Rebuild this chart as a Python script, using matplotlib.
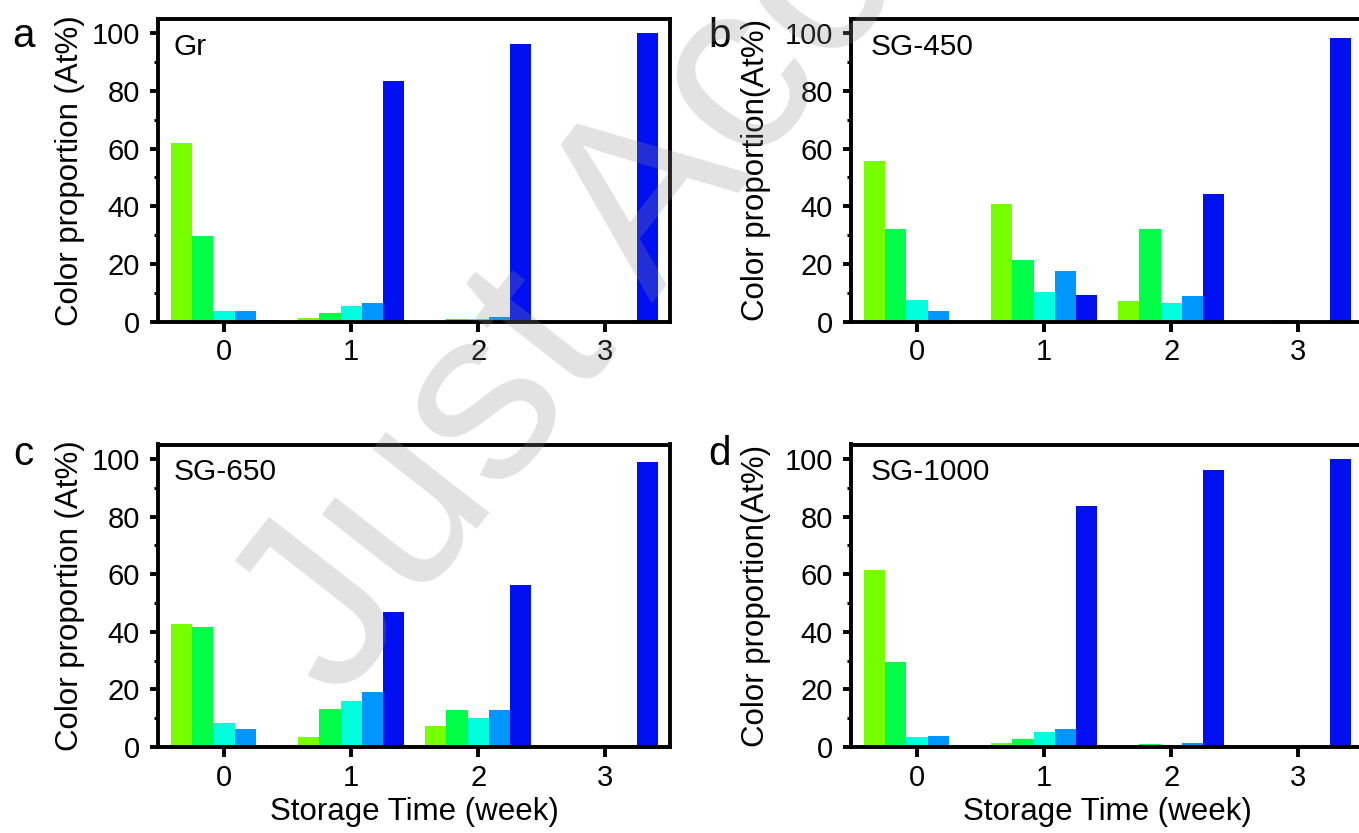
import numpy as np
import matplotlib
matplotlib.use("Agg")
import matplotlib.pyplot as plt
from matplotlib.ticker import MultipleLocator

plt.rcParams['font.family'] = ['Liberation Sans', 'DejaVu Sans']

weeks = [0, 1, 2, 3]

# five colour classes, from yellow-green to deep blue
bar_colors = ['#77ff00', '#00ff48', '#00ffdd', '#0096ff', '#0010f0']

# At% per colour class at each storage week
gr = [
    [61.8, 1.3, 0.0, 0.0],
    [29.7, 2.8, 1.0, 0.0],
    [3.5, 5.3, 0.8, 0.0],
    [3.8, 6.4, 1.4, 0.0],
    [0.6, 83.5, 96.4, 100.0],
]
sg450 = [
    [55.6, 40.7, 7.2, 0.0],
    [32.2, 21.2, 32.2, 0.4],
    [7.5, 10.4, 6.4, 0.4],
    [3.8, 17.6, 8.9, 0.0],
    [0.0, 9.2, 44.4, 98.5],
]
sg650 = [
    [42.6, 3.5, 7.2, 0.0],
    [41.6, 13.3, 12.9, 0.0],
    [8.5, 15.9, 10.0, 0.4],
    [6.3, 19.2, 12.9, 0.0],
    [0.0, 47.0, 56.3, 98.8],
]
sg1000 = [
    [61.6, 1.3, 0.0, 0.0],
    [29.5, 2.8, 1.0, 0.0],
    [3.5, 5.3, 0.8, 0.0],
    [3.7, 6.3, 1.3, 0.0],
    [0.5, 83.5, 96.3, 100.0],
]

panels = [
    ('a', 'Gr', gr, 'Color proportion (At%)'),
    ('b', 'SG-450', sg450, 'Color proportion(At%)'),
    ('c', 'SG-650', sg650, 'Color proportion (At%)'),
    ('d', 'SG-1000', sg1000, 'Color proportion(At%)'),
]

fig = plt.figure(figsize=(13.59, 8.33), dpi=100)

W, H = 1359, 833
ax_w, ax_h = 512, 302.5
origins = [(158, 321.5), (851, 321.5), (158, 747), (851, 747)]
letter_pos = [(12, 47), (708, 47), (13, 465), (708, 465)]

bw = 1 / 6
x = np.array(weeks, dtype=float)

for k, (letter, name, data, ylab) in enumerate(panels):
    x0, y0 = origins[k]
    ax = fig.add_axes([x0 / W, 1 - y0 / H, ax_w / W, ax_h / H])
    for i in range(5):
        ax.bar(x + (i - 2) * bw, data[i], width=bw, color=bar_colors[i],
               linewidth=0, zorder=2)

    ax.set_xlim(-0.52, 3.51)
    ax.set_ylim(0, 105)
    ax.set_xticks(weeks)
    ax.yaxis.set_major_locator(MultipleLocator(20))
    ax.yaxis.set_minor_locator(MultipleLocator(10))
    for s in ax.spines.values():
        s.set_linewidth(2.8)
    ax.tick_params(axis='x', which='major', direction='out', length=7,
                   width=2.8, labelsize=21, pad=5)
    ax.tick_params(axis='y', which='major', direction='out', length=6,
                   width=2.8, labelsize=21, pad=7)
    ax.tick_params(axis='y', which='minor', direction='out', length=3,
                   width=2.2)
    ax.tick_params(top=False, right=False, which='both')

    ax.set_ylabel(ylab, fontsize=22.5)
    if k in (0, 2):
        ax.yaxis.set_label_coords(-0.143, 0.5)
    else:
        ax.yaxis.set_label_coords(-0.157, 0.5)

    if k >= 2:
        ax.set_xlabel('Storage Time (week)', fontsize=22.5)
        ax.xaxis.set_label_coords(0.5, -0.165)

    tx = 0.03 if k in (0, 2) else 0.039
    ax.text(tx, 0.955, name, transform=ax.transAxes, fontsize=21.5,
            ha='left', va='top')

    lx, ly = letter_pos[k]
    fig.text(lx / W, 1 - ly / H, letter, fontsize=29, ha='left',
             va='baseline')

# journal watermark across the figure
fig.text(0.250, 0.154, 'Just Accepted', rotation=52, rotation_mode='anchor',
         ha='left', va='baseline', fontsize=178, color='#8c8c8c',
         alpha=0.25, zorder=10)

fig.savefig('out.png', dpi=100)
